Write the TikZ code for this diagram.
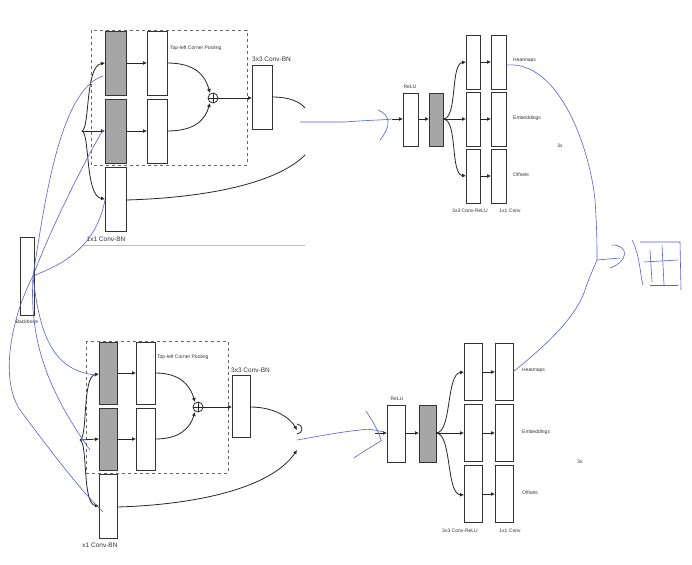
\documentclass[tikz,border=0pt]{standalone}
\usepackage{fontspec}
\setmainfont{Liberation Sans}
\usetikzlibrary{arrows.meta}
\definecolor{pen}{RGB}{85,95,215}
\begin{document}
\begin{tikzpicture}[x=1pt,y=-1pt,
  wbox/.style={draw=black!80,line width=0.9pt,fill=white},
  gbox/.style={draw=black!80,line width=0.9pt,fill=black!35},
  arr/.style={-{Latex[length=4pt,width=4pt]},line width=0.8pt,black!85},
  ln/.style={line width=0.8pt,black!85},
  dbox/.style={draw=black!60,dashed,line width=0.6pt},
  blu/.style={draw=pen,line width=0.6pt},
  sm/.style={font=\fontsize{5}{6}\selectfont,inner sep=0pt,text=black!80},
  md/.style={font=\fontsize{6.5}{7}\selectfont,inner sep=0pt,text=black!80}]
\useasboundingbox (0,0) rectangle (692,564);
\fill[white] (0,0) rectangle (692,564);
% ===== top module =====
\draw[dbox] (91,30) rectangle (247,165);
\draw[black!25,line width=0.8pt] (83,245) -- (305,245);
\draw[gbox] (105,31) rectangle (126,95);
\draw[gbox] (105,99) rectangle (126,163);
\draw[wbox] (147,31) rectangle (167,95);
\draw[wbox] (147,99) rectangle (167,163);
\draw[wbox] (252,65) rectangle (272,129);
\draw[wbox] (105,167) rectangle (126,231);
\draw[ln] (213,98) circle (5); \draw[ln] (208,98)--(218,98) (213,93)--(213,103);
\draw[arr] (126,63) -- (147,63);
\draw[arr] (126,131) -- (147,131);
\draw[arr] (167,63) .. controls (195,63) and (205,75) .. (210,93);
\draw[arr] (167,131) .. controls (195,131) and (205,120) .. (210,103);
\draw[arr] (218,98) -- (252,98);
\draw[arr] (82,131) .. controls (90,128) and (85,66) .. (105,63);
\draw[arr] (82,131) -- (105,131);
\draw[arr] (82,131) .. controls (90,134) and (85,196) .. (105,199);
\draw[ln] (272,97) .. controls (290,97) and (300,102) .. (305,108);
\draw[ln] (126,200) .. controls (200,198) and (275,185) .. (305,155);
\node[sm,anchor=west] at (170,48) {Top-left Corner Pooling};
\node[md,anchor=west] at (252,59) {3x3 Conv-BN};
\node[md] at (106,239) {1x1 Conv-BN};
% backbone
\draw[wbox] (20,237) rectangle (34,315);
\node[sm] at (27,322) {Backbone};
% ===== bottom module =====
\draw[dbox] (86,341) rectangle (228,473);
\draw[gbox] (99,342) rectangle (117,404);
\draw[gbox] (99,408) rectangle (117,470);
\draw[wbox] (136,342) rectangle (155,404);
\draw[wbox] (136,408) rectangle (155,470);
\draw[wbox] (232,375) rectangle (250,437);
\draw[wbox] (99,474) rectangle (117,538);
\draw[ln] (198,407) circle (5); \draw[ln] (193,407)--(203,407) (198,402)--(198,412);
\draw[arr] (117,373) -- (136,373);
\draw[arr] (117,439) -- (136,439);
\draw[arr] (155,373) .. controls (180,373) and (190,385) .. (195,402);
\draw[arr] (155,439) .. controls (180,439) and (190,428) .. (195,412);
\draw[arr] (203,407) -- (232,407);
\draw[arr] (80,440) .. controls (88,437) and (82,376) .. (99,374);
\draw[arr] (80,440) -- (99,439);
\draw[arr] (80,440) .. controls (88,443) and (82,504) .. (99,506);
\draw[arr] (250,407) .. controls (275,407) and (290,418) .. (297,430);
\draw[arr] (117,507) .. controls (190,505) and (270,490) .. (297,450);
\draw[ln] (297,434) arc (-90:-270:-5);
\node[sm,anchor=west] at (157,357) {Top-left Corner Pooling};
\node[md,anchor=west] at (231,370) {3x3 Conv-BN};
\node[md] at (100,545) {x1 Conv-BN};
% ===== right top =====
\draw[wbox] (403,93) rectangle (418,146);
\draw[gbox] (429,93) rectangle (443,146);
\foreach \y in {35,92,149}{\draw[wbox] (466,\y) rectangle (480,\y+54); \draw[wbox] (491,\y) rectangle (506,\y+54); \draw[arr] (480,\y+27) -- (491,\y+27);}
\draw[arr] (392,119) -- (403,119);
\draw[arr] (418,119) -- (429,119);
\draw[arr] (443,119) .. controls (458,119) and (450,64) .. (466,62);
\draw[arr] (443,119) -- (466,119);
\draw[arr] (443,119) .. controls (458,119) and (450,174) .. (466,176);
\node[sm] at (410,87) {ReLU};
\node[sm,anchor=west] at (513,60) {Heatmaps};
\node[sm,anchor=west] at (513,118) {Embeddings};
\node[sm,anchor=west] at (513,175) {Offsets};
\node[sm] at (560,146) {3x};
\node[sm] at (470,211) {3x3 Conv-ReLU};
\node[sm] at (510,211) {1x1 Conv};
% ===== right bottom =====
\draw[wbox] (387,405) rectangle (405,462);
\draw[gbox] (419,405) rectangle (436,462);
\foreach \y in {343,404,465}{\draw[wbox] (464,\y) rectangle (482,\y+57); \draw[wbox] (495,\y) rectangle (513,\y+57); \draw[arr] (482,\y+29) -- (495,\y+29);}
\draw[arr] (375,433) -- (387,433);
\draw[arr] (405,433) -- (419,433);
\draw[arr] (436,433) .. controls (452,433) and (446,374) .. (464,372);
\draw[arr] (436,433) -- (464,433);
\draw[arr] (436,433) .. controls (452,433) and (446,494) .. (464,495);
\node[sm] at (397,399) {ReLU};
\node[sm,anchor=west] at (522,370) {Heatmaps};
\node[sm,anchor=west] at (522,432) {Embeddings};
\node[sm,anchor=west] at (522,493) {Offsets};
\node[sm] at (580,462) {3x};
\node[sm] at (460,531) {3x3 Conv-ReLU};
\node[sm] at (510,531) {1x1 Conv};
% ===== blue handwriting =====
\draw[blu] (33,276) .. controls (45,200) and (60,90) .. (103,76);
\draw[blu] (33,276) .. controls (50,230) and (85,160) .. (103,130);
\draw[blu] (33,276) .. controls (60,265) and (95,250) .. (105,200);
\draw[blu] (33,276) .. controls (10,320) and (0,380) .. (20,410) .. controls (50,450) and (80,490) .. (103,512);
\draw[blu] (33,276) .. controls (30,330) and (40,380) .. (90,450);
\draw[blu] (33,276) .. controls (40,340) and (55,370) .. (95,375);
\draw[blu] (300,122) -- (345,122) .. controls (370,120) and (385,120) .. (392,119);
\draw[blu] (378,110) .. controls (390,115) and (392,125) .. (380,140);
\draw[blu] (297,440) .. controls (320,436) and (340,432) .. (360,430) .. controls (370,428) and (378,431) .. (384,432);
\draw[blu] (366,411) .. controls (372,420) and (378,430) .. (381,440);
\draw[blu] (354,458) .. controls (365,450) and (375,445) .. (382,440);
\draw[blu] (506,65) .. controls (560,60) and (590,150) .. (595,200) .. controls (597,230) and (597,245) .. (597,260);
\draw[blu] (513,372) .. controls (540,350) and (575,320) .. (585,290) .. controls (590,275) and (595,265) .. (597,260) -- (620,258);
\draw[blu] (612,245) .. controls (630,245) and (628,262) .. (610,268);
\draw[blu] (632,240) .. controls (640,255) and (640,275) .. (643,285);
\draw[blu] (640,242) -- (680,242) -- (681,290);
\draw[blu] (650,250) -- (652,282);
\draw[blu] (644,262) -- (678,260);
\draw[blu] (662,245) -- (664,285);
\draw[blu] (650,285) -- (678,285);
\end{tikzpicture}
\end{document}
